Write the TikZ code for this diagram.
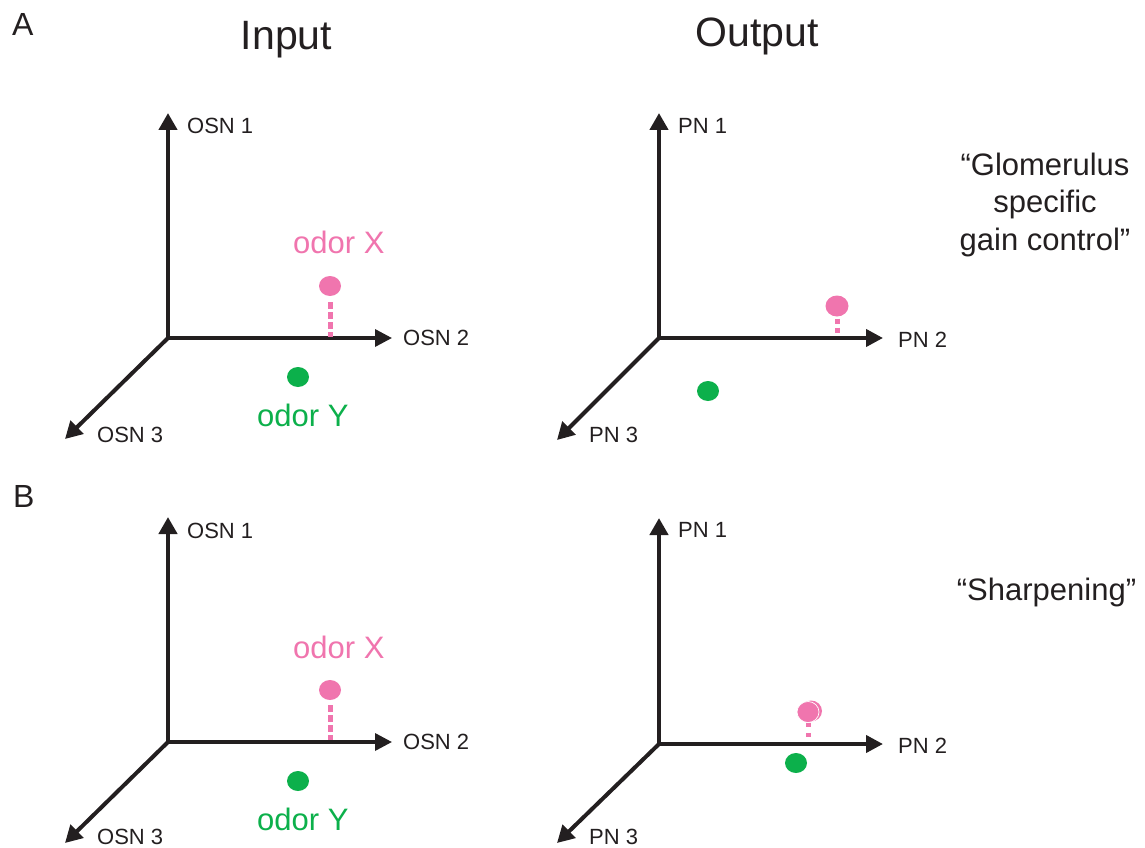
\documentclass[tikz,border=0pt]{standalone}
\usepackage{fontspec}
\setmainfont{Liberation Sans}
\usetikzlibrary{arrows.meta,shapes.geometric}
\definecolor{ink}{RGB}{35,31,32}
\definecolor{odorx}{RGB}{240,117,174}
\definecolor{odory}{RGB}{12,176,75}
\begin{document}
\begin{tikzpicture}[x=1pt,y=-1pt,
  axisv/.style={draw=ink, line width=4.5pt, -{Triangle[length=17pt,width=18pt]}},
  axish/.style={draw=ink, line width=3.4pt, -{Triangle[length=17pt,width=17pt]}},
  axisho/.style={draw=ink, line width=4pt, -{Triangle[length=17pt,width=17pt]}},
  axisd/.style={draw=ink, line width=4pt, -{Triangle[length=17pt,width=18pt]}},
  lab/.style={anchor=base west, inner sep=0pt, text=ink, font=\fontsize{22}{26}\selectfont},
  odorlab/.style={anchor=base west, inner sep=0pt, font=\fontsize{31}{36}\selectfont},
  heading/.style={anchor=base, inner sep=0pt, text=ink, font=\fontsize{41}{48}\selectfont},
  panel/.style={anchor=base west, inner sep=0pt, text=ink, font=\fontsize{32}{38}\selectfont},
  side/.style={inner sep=0pt, text=ink, align=center, font=\fontsize{31}{37.5}\selectfont},
  dotx/.style={ellipse, fill=odorx, minimum width=22pt, minimum height=20pt, inner sep=0pt},
  doty/.style={ellipse, fill=odory, minimum width=22pt, minimum height=20pt, inner sep=0pt},
  dropline/.style={draw=odorx, line width=5pt, dash pattern=on 6.5pt off 3.5pt}
]
\useasboundingbox (0,0) rectangle (1145,848);

% headings
\node[panel] (pA) at (12,36) {A};
\node[panel] (pB) at (13,507) {B};
\node[heading] (hin) at (286.5,50) {Input};
\node[heading] (hout) at (757,47) {Output};

% ---------- A input ----------
\coordinate (ai-o) at (168,338);
\coordinate (ai-1) at (168,113);
\coordinate (ai-2) at (392,338);
\coordinate (ai-3) at (65,439);
\draw[axisd] (ai-o) -- (ai-3);
\draw[axish] (ai-o) -- (ai-2);
\draw[axisv] ([yshift=-1.7pt]ai-o) -- (ai-1);
\node[lab] (ai-l1) at (187,133) {OSN 1};
\node[lab] (ai-l2) at (403,345) {OSN 2};
\node[lab] (ai-l3) at (97,442) {OSN 3};
\node[dotx] (ai-x) at (330,286) {};
\coordinate (ai-xf) at (330,337);
\draw[dropline] ([yshift=-6pt]ai-x.south) -- (ai-xf);
\node[doty] (ai-y) at (298,377) {};
\node[odorlab, text=odorx] (ai-xl) at (293,253) {odor X};
\node[odorlab, text=odory] (ai-yl) at (257,426) {odor Y};

% ---------- A output ----------
\coordinate (ao-o) at (659,338);
\coordinate (ao-1) at (659,113);
\coordinate (ao-2) at (883,338);
\coordinate (ao-3) at (557,440);
\draw[axisd] (ao-o) -- (ao-3);
\draw[axisho] (ao-o) -- (ao-2);
\draw[axisv] ([yshift=-2pt]ao-o) -- (ao-1);
\node[lab] (ao-l1) at (678,133) {PN 1};
\node[lab] (ao-l2) at (898,347) {PN 2};
\node[lab] (ao-l3) at (589,442) {PN 3};
\node[dotx, minimum width=23pt, minimum height=21pt] (ao-x) at (837,306) {};
\coordinate (ao-xf) at (837,336);
\draw[dropline, dash pattern=on 5pt off 4pt] ([yshift=-2pt]ao-x.south) -- (ao-xf);
\node[doty] (ao-y) at (708,391) {};
\node[side, anchor=north] (gl) at (1045,152.5) {“Glomerulus\\specific\\gain control”};

% ---------- B input ----------
\coordinate (bi-o) at (168,742);
\coordinate (bi-1) at (168,517);
\coordinate (bi-2) at (392,742);
\coordinate (bi-3) at (65,843);
\draw[axisd] (bi-o) -- (bi-3);
\draw[axish] (bi-o) -- (bi-2);
\draw[axisv] ([yshift=-1.7pt]bi-o) -- (bi-1);
\node[lab] (bi-l1) at (187,538) {OSN 1};
\node[lab] (bi-l2) at (403,749) {OSN 2};
\node[lab] (bi-l3) at (97,844.5) {OSN 3};
\node[dotx] (bi-x) at (330,690) {};
\coordinate (bi-xf) at (330,740);
\draw[dropline] ([yshift=-5pt]bi-x.south) -- (bi-xf);
\node[doty] (bi-y) at (298,781) {};
\node[odorlab, text=odorx] (bi-xl) at (293,658) {odor X};
\node[odorlab, text=odory] (bi-yl) at (257,830) {odor Y};

% ---------- B output ----------
\coordinate (bo-o) at (659,744);
\coordinate (bo-1) at (659,518);
\coordinate (bo-2) at (883,744);
\coordinate (bo-3) at (557,843);
\draw[axisd] (bo-o) -- (bo-3);
\draw[axisho] (bo-o) -- (bo-2);
\draw[axisv] ([yshift=-2pt]bo-o) -- (bo-1);
\node[lab] (bo-l1) at (678,537) {PN 1};
\node[lab] (bo-l2) at (898,753) {PN 2};
\node[lab] (bo-l3) at (589,844.5) {PN 3};
\node[dotx, minimum width=22pt, minimum height=21pt] (bo-xg) at (811,711) {};
\node[dotx, minimum width=22pt, minimum height=21pt, draw=white, line width=0.7pt] (bo-x) at (808,712) {};
\coordinate (bo-xf) at (808,737);
\draw[dropline, dash pattern=on 4pt off 6pt] (bo-x.south) -- (bo-xf);
\node[doty] (bo-y) at (796,763) {};
\node[side, anchor=base] (sh) at (1046.5,600) {“Sharpening”};
\end{tikzpicture}
\end{document}
